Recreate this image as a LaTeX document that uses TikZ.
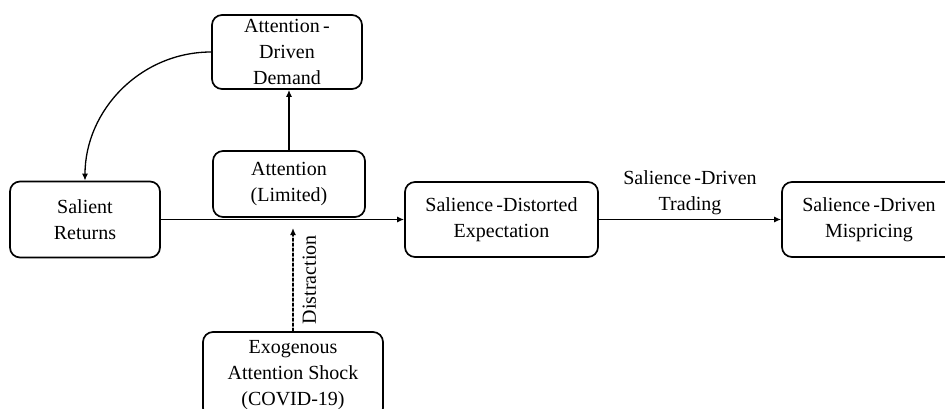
\documentclass[tikz,border=0pt]{standalone}
\usepackage{fontspec}
\setmainfont{Liberation Serif}
\usetikzlibrary{arrows.meta}
\begin{document}
\begin{tikzpicture}[x=1pt,y=-1pt,line join=round,line cap=round,>={Latex[length=7pt,width=6pt]},
	box/.style={draw,line width=1.7pt,rounded corners=10pt,align=center,inner sep=0pt,font=\fontsize{20}{26}\selectfont},
	link/.style={->,line width=1.3pt}]
	\useasboundingbox (0,0) rectangle (945,409);
	% boxes
	\node[box,minimum width=150pt,minimum height=76pt] (ret) at (85,219.5) {Salient\\Returns};
	\node[box,minimum width=152pt,minimum height=66pt] (lim) at (289,184) {Attention\\(Limited)};
	\node[box,minimum width=150pt,minimum height=74pt] (dem) at (287,52) {Attention\,-\\Driven\\Demand};
	\node[box,minimum width=193pt,minimum height=75pt] (exp) at (501.5,219.5) {Salience\,-Distorted\\Expectation};
	\node[box,minimum width=174pt,minimum height=75pt] (mis) at (869,219.5) {Salience\,-Driven\\Mispricing};
	\node[box,minimum width=180pt,minimum height=86pt] (exo) at (293,375) {Exogenous\\Attention Shock\\(COVID-19)};
	\coordinate (hit) at (293,228);
	% connectors
	\draw[link] (ret.east) -- (exp.west);
	\draw[link] (lim.north) -- (lim.north |- dem.south);
	\draw[link] (dem.west) to[out=180,in=90] (ret.north);
	\draw[link,dash pattern=on 3pt off 2pt] (exo.north) -- node[midway,sloped,below=9pt,inner sep=0pt,font=\fontsize{20}{26}\selectfont] {Distraction} (hit);
	\draw[link] (exp.east) -- node[midway,above=1pt,align=center,font=\fontsize{20}{26}\selectfont] {Salience\,-Driven\\Trading} (mis.west);
\end{tikzpicture}
\end{document}
